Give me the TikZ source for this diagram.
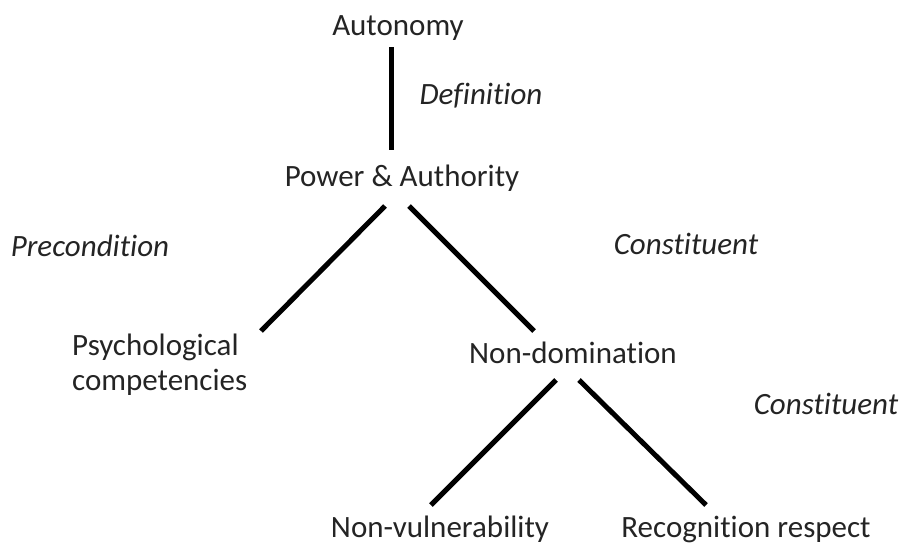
\documentclass[tikz,border=0pt]{standalone}
\usepackage{fontspec}
\setmainfont{Carlito}[Ligatures=NoCommon]
\definecolor{txt}{rgb}{0.14,0.14,0.14}

\begin{document}
\begin{tikzpicture}[x=1pt,y=-1pt,
	every node/.style={inner sep=0pt,text=txt,font=\fontsize{31}{35}\selectfont},
	lbl/.style={font=\fontsize{31}{35}\selectfont\itshape},
	link/.style={line width=5pt,black}]

	\useasboundingbox (0,0) rectangle (901,546);

	\node at (398,28) (auto) {Autonomy};
	\node at (402,178) (pa) {Power \& Authority};
	\node[align=left,anchor=west] at (72,365) (psych) {Psychological\\competencies};
	\node at (573,353) (nd) {Non-domination};
	\node at (440,529) (nv) {Non-vulnerability};
	\node at (746,529) (rr) {Recognition respect};

	% relation labels
	\node[lbl] at (481,96) (def) {Definition};
	\node[lbl] at (90,246) (pre) {Precondition};
	\node[lbl] at (686,244) (con1) {Constituent};
	\node[lbl] at (826,404) (con2) {Constituent};

	\draw[link] ([shift={(-7,19)}]auto.center) to ([shift={(-11,-28)}]pa.center);

	\draw[link] ([shift={(-17,28)}]pa.center) to ([shift={(189,-34)}]psych.west);
	\draw[link] ([shift={(7,28)}]pa.center) to ([shift={(-39,-22)}]nd.center);

	\draw[link] ([shift={(-17,27)}]nd.center) to ([shift={(-9,-24)}]nv.center);
	\draw[link] ([shift={(6,27)}]nd.center) to ([shift={(-40,-24)}]rr.center);
\end{tikzpicture}
\end{document}
